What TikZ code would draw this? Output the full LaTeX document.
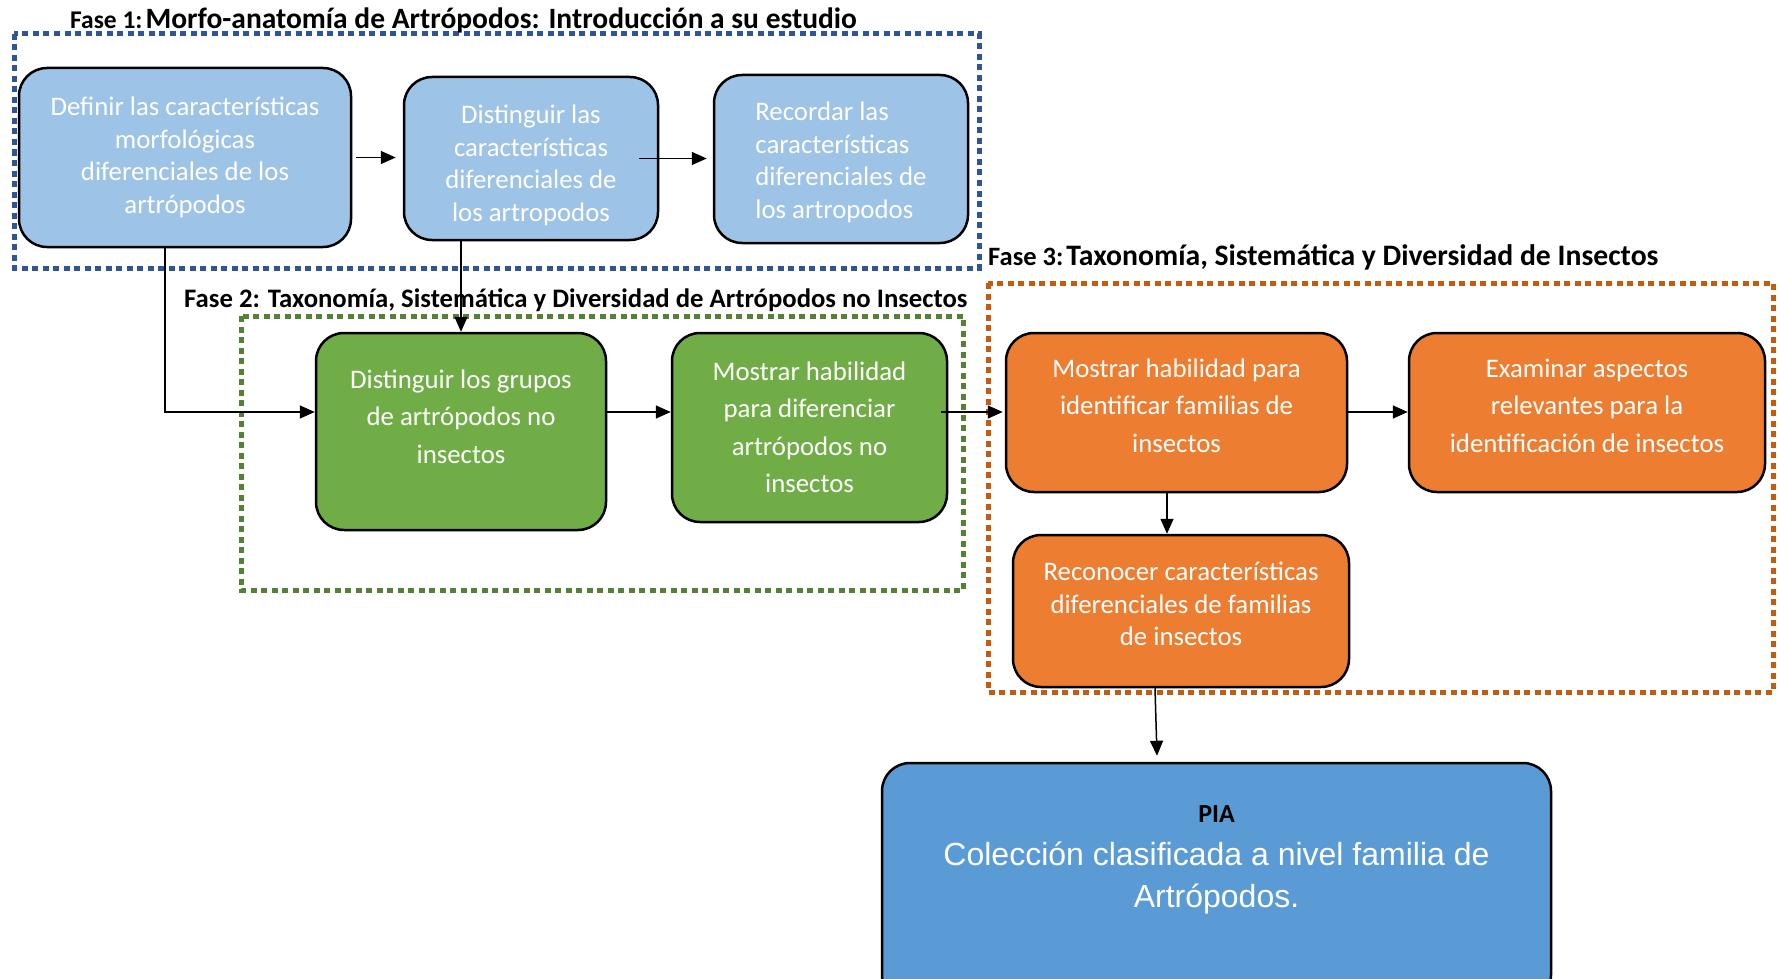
\documentclass[tikz,border=0pt]{standalone}
\usepackage{fontspec}
\setmainfont{Carlito}
\newfontfamily\piafont{Liberation Sans}
\usetikzlibrary{arrows.meta}

\definecolor{fasebluefg}{HTML}{2F5597}
\definecolor{fasegreenfg}{HTML}{548235}
\definecolor{faseorangefg}{HTML}{C55A11}
\definecolor{boxblue}{HTML}{9DC3E6}
\definecolor{boxgreen}{HTML}{70AD47}
\definecolor{boxorange}{HTML}{ED7D31}
\definecolor{piablue}{HTML}{5B9BD5}

\tikzset{
        stepbox/.style={draw=black, line width=2.5pt, rounded corners=28pt, text=white, align=center, inner sep=0pt},
        bluebox/.style={stepbox, fill=boxblue, font=\fontsize{26.8}{32.6}\selectfont},
        greenbox/.style={stepbox, fill=boxgreen, font=\fontsize{26.8}{37.5}\selectfont},
        orangebox/.style={stepbox, fill=boxorange, font=\fontsize{26.8}{37.5}\selectfont},
        phaseframe/.style={line width=5pt, dash pattern=on 6pt off 4.5pt},
        phasetitle/.style={anchor=west, inner sep=0pt, font=\bfseries},
        arr/.style={line width=1.5pt, -{Triangle[length=15pt,width=13pt]}}
}

\begin{document}
\begin{tikzpicture}[x=1pt, y=-1pt]
        \useasboundingbox (0,0) rectangle (1780,979);
        \clip (0,0) rectangle (1780,979);

        % phase frames and titles
        \draw[phaseframe, fasebluefg] (14,34) rectangle (979,268);
        \draw[phaseframe, fasegreenfg] (241,316) rectangle (963,590);
        \draw[phaseframe, faseorangefg] (988,283) rectangle (1773,692);
        \node (T1) [phasetitle] at (70,20) {{\fontsize{25.5}{30}\selectfont Fase 1:} \fontsize{29.5}{34}\selectfont Morfo-anatomía de Artrópodos: Introducción a su estudio};
        \node (T2) [phasetitle] at (184,300) {\fontsize{26.7}{30}\selectfont Fase 2: Taxonomía, Sistemática y Diversidad de Artrópodos no Insectos};
        \node (T3) [phasetitle] at (988,257) {{\fontsize{26.5}{30}\selectfont Fase 3:} \fontsize{29.7}{34}\selectfont Taxonomía, Sistemática y Diversidad de Insectos};

        % fase 1
        \node (A1) [bluebox, minimum width=332pt, minimum height=179pt] at (185,157.5) {Definir las características\\morfológicas\\diferenciales de los\\artrópodos};
        \node (A2) [bluebox, text height=130pt, minimum width=254pt, minimum height=163pt] at (531,158.5) {Distinguir las\\características\\diferenciales de\\los artropodos};
        \node (A3) [bluebox, text height=123pt, align=left, minimum width=254pt, minimum height=168pt] at (841,159) {Recordar las\\características\\diferenciales de\\los artropodos};

        % fase 2
        \node (B1) [greenbox, text depth=30pt, minimum width=290pt, minimum height=197pt] at (461,431.5) {Distinguir los grupos\\de artrópodos no\\insectos};
        \node (B2) [greenbox, minimum width=275pt, minimum height=189pt] at (809.5,427.5) {Mostrar habilidad\\para diferenciar\\artrópodos no\\insectos};

        % fase 3
        \node (C1) [orangebox, text depth=14pt, minimum width=341pt, minimum height=159pt] at (1176.5,412.5) {Mostrar habilidad para\\identificar familias de\\insectos};
        \node (C2) [orangebox, text depth=14pt, minimum width=356pt, minimum height=159pt] at (1587,412.5) {Examinar aspectos\\relevantes para la\\identificación de insectos};
        \node (C3) [orangebox, text depth=14pt, font=\fontsize{26.8}{32.4}\selectfont, minimum width=336pt, minimum height=152pt] at (1181,611) {Reconocer características\\diferenciales de familias\\de insectos};

        % PIA
        \node (D) [stepbox, fill=piablue, minimum width=669pt, minimum height=240pt] at (1216.5,883) {};
        \node (Dpia) [font=\bfseries\fontsize{26}{30}\selectfont] at (1216.5,814) {PIA};
        \node (Dtxt) [text=white, align=center, font=\piafont\fontsize{32}{42}\selectfont] at (1216.5,878.5) {Colección clasificada a nivel familia de\\Artrópodos.};

        % connectors
        \coordinate (r2) at (0,412);
        \draw[arr] ([xshift=4pt]A1.east) -- ([xshift=-7pt]A1.east -| A2.west);
        \draw[arr] ([xshift=-20pt]A2.east) -- ([xshift=-6pt]A2.east -| A3.west);
        \draw[arr] ([xshift=-20pt]A1.south) |- (B1.west |- r2);
        \draw[arr] (B1.north |- A2.south) -- (B1.north);
        \draw[arr] (B1.east |- r2) -- (B2.west |- r2);
        \draw[arr] ([xshift=-7pt]B2.east |- r2) -- ([xshift=-2pt]C1.west |- r2);
        \draw[arr] (C1.east |- r2) -- (C2.west |- r2);
        \draw[arr] ([xshift=-9.5pt]C1.south) -- ([xshift=-9.5pt]C1.south |- C3.north);
        \draw[arr] ([xshift=-26pt]C3.south) -- ([xshift=-59.5pt, yshift=6pt]D.north);
\end{tikzpicture}
\end{document}
